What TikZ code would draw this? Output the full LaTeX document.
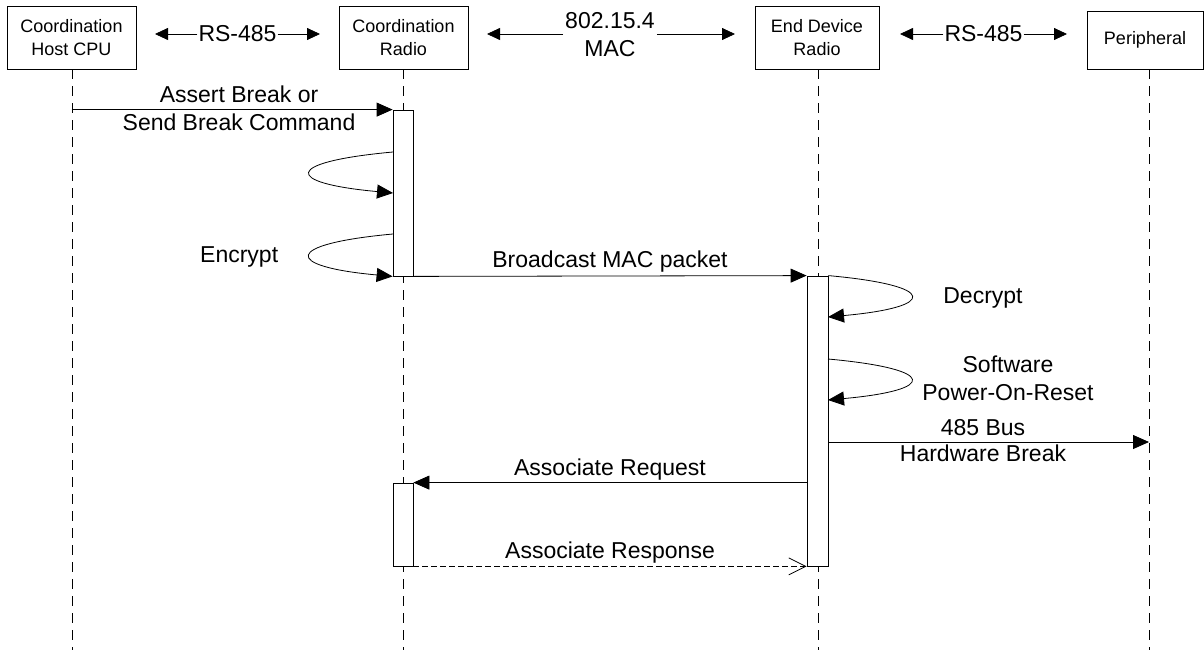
\documentclass[tikz,border=0pt]{standalone}
\usepackage{fontspec}
\setmainfont{Liberation Sans}
\usetikzlibrary{arrows.meta}
\begin{document}
\begin{tikzpicture}[x=1pt,y=-1pt,
  every node/.style={inner sep=0pt},
  actor/.style={draw, line width=0.8pt, fill=white, minimum height=63pt,
    font=\fontsize{18}{23}\selectfont, align=center},
  lifeline/.style={line width=0.8pt, dash pattern=on 10pt off 7pt},
  actbar/.style={draw, line width=0.8pt, fill=white, minimum width=20pt},
  msg/.style={line width=0.8pt, -{Triangle[length=16pt,width=14pt]}},
  reply/.style={line width=0.8pt, dash pattern=on 6pt off 3pt,
    -{Straight Barb[length=17pt,width=17pt]}},
  link/.style={line width=0.8pt, -{Triangle[length=13pt,width=12pt]}},
  lbl/.style={font=\fontsize{23}{28}\selectfont, align=center},
]
\useasboundingbox (0,0) rectangle (1204,650);

% participants
\node[actor, minimum width=129pt] (host) at (71.5,37.5) {Coordination\\Host CPU};
\node[actor, minimum width=129pt] (crad) at (403.5,37.5) {Coordination\\Radio};
\node[actor, minimum width=124pt] (erad) at (817,37.5) {End Device\\Radio};
\node[actor, minimum width=116pt, minimum height=58pt] (peri) at (1145,40) {Peripheral};

% links between participants (multi-line labels are placed by their last baseline)
\node[lbl, inner sep=1pt, anchor=base] (rsA) at (237.5,42) {RS-485};
\coordinate (rsAL) at (155,34);
\coordinate (rsAR) at (320,34);
\draw[link] (rsA.west |- rsAL) -- (rsAL);
\draw[link] (rsA.east |- rsAR) -- (rsAR);

\node[lbl, inner sep=2pt, anchor=base] (mac) at (610,57) {802.15.4\\MAC};
\coordinate (macL) at (487,34);
\coordinate (macR) at (735,34);
\draw[link] (mac.west |- macL) -- (macL);
\draw[link] (mac.east |- macR) -- (macR);

\node[lbl, inner sep=1pt, anchor=base] (rsB) at (983.5,42) {RS-485};
\coordinate (rsBL) at (900,34);
\coordinate (rsBR) at (1067,34);
\draw[link] (rsB.west |- rsBL) -- (rsBL);
\draw[link] (rsB.east |- rsBR) -- (rsBR);

% lifelines
\coordinate (hostEnd) at (72,650);
\coordinate (cradEnd) at (403,650);
\coordinate (eradEnd) at (818,650);
\coordinate (periEnd) at (1149,650);
\draw[lifeline] (host.south -| hostEnd) -- (hostEnd);
\draw[lifeline] (crad.south -| cradEnd) -- (cradEnd);
\draw[lifeline] (erad.south -| eradEnd) -- (eradEnd);
\draw[lifeline] (peri.south -| periEnd) -- (periEnd);

% activation bars
\node[actbar, minimum height=166pt] (cbar1) at (403,193) {};
\node[actbar, minimum height=83pt] (cbar2) at (403,524.5) {};
\node[actbar, minimum width=21pt, minimum height=290pt] (ebar) at (817.5,421) {};

% break request
\draw[msg] (cbar1.north west -| host.south) -- (cbar1.north west);
\node[lbl, anchor=base] (m1) at (239,131) {Assert Break or\\Send Break Command};

% self calls on the coordination radio
\coordinate (s1a) at (393,152);
\coordinate (s1b) at (393,193);
\draw[msg] (s1a) .. controls +(-110,10) and +(-110,-10) .. (s1b);
\coordinate (s2a) at (393,234);
\draw[msg] (s2a) .. controls +(-110,10) and +(-110,-10) .. (cbar1.south west);
\node[lbl, anchor=base west] (enc) at (200,262) {Encrypt};

% broadcast
\draw[msg] (cbar1.south east) -- (ebar.north west);
\node[lbl, anchor=base] (bc) at (610,267) {Broadcast MAC packet};

% self calls on the end device radio
\coordinate (s3b) at (828,317);
\draw[msg] (ebar.north east) .. controls +(110,10) and +(110,-10) .. (s3b);
\node[lbl, anchor=base] (dec) at (983,303) {Decrypt};
\coordinate (s4a) at (828,359);
\coordinate (s4b) at (828,400);
\draw[msg] (s4a) .. controls +(110,10) and +(110,-10) .. (s4b);
\node[lbl, anchor=base] (por) at (1008,400) {Software\\Power-On-Reset};

% hardware break on the bus
\coordinate (busE) at (1149,442);
\draw[msg] (ebar.east |- busE) -- (busE);
\node[lbl, anchor=base] (bus) at (983,461) {485 Bus\\[-2pt]Hardware Break};

% association
\draw[msg] (cbar2.north east -| ebar.west) -- (cbar2.north east);
\node[lbl, anchor=base] (areq) at (610,475) {Associate Request};
\draw[reply] (cbar2.south east) -- (ebar.south west);
\node[lbl, anchor=base] (ares) at (610,558) {Associate Response};
\end{tikzpicture}
\end{document}
